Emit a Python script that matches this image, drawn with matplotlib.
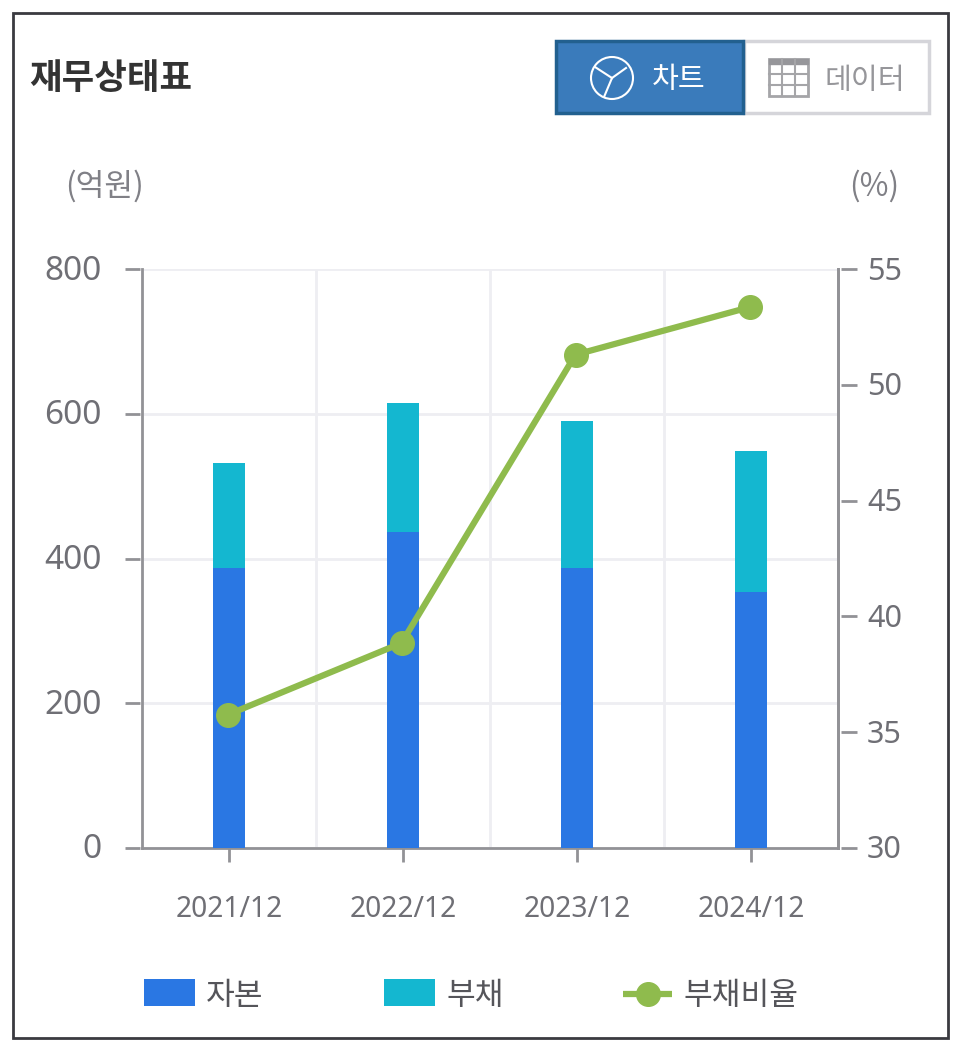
import matplotlib
matplotlib.use('Agg')
import matplotlib.pyplot as plt
from matplotlib.patches import Rectangle, Circle
from matplotlib.transforms import ScaledTranslation

plt.rcParams['font.family'] = ['Noto Sans CJK KR', 'DejaVu Sans']

# --- data ---
periods = ['2021/12', '2022/12', '2023/12', '2024/12']
equity = [387, 437, 387, 354]
debt = [145, 178, 203, 195]
debt_ratio = [35.75, 38.85, 51.3, 53.35]
left_ticks = [0, 200, 400, 600, 800]
right_ticks = [30, 35, 40, 45, 50, 55]

BLUE = '#2a77e3'
CYAN = '#14b7d0'
GREEN = '#8fbb4d'
GRAY = '#6f6f75'
AXIS = '#929296'
W, H = 960, 1050

fig = plt.figure(figsize=(W / 100, H / 100), dpi=100, facecolor='white')


def px_shift(dx, dy):
    # offset in screen pixels, y up
    return ScaledTranslation(dx / 100, dy / 100, fig.dpi_scale_trans)


# overlay in pixel coordinates for the card, title, buttons and legend
bg = fig.add_axes([0, 0, 1, 1])
bg.set_xlim(0, W)
bg.set_ylim(H, 0)
bg.axis('off')
bg.add_patch(Rectangle((12.5, 12.5), 935, 1025, fc='white', ec='#3a3a40', lw=2))
bg.text(29, 79, '재무상태표', fontsize=25.5, fontweight='bold', color='#333333', va='center', ha='left')

# chart / data toggle
bg.add_patch(Rectangle((744, 41), 185, 72, fc='white', ec='#d5d5da', lw=2.5))
bg.add_patch(Rectangle((556, 41), 187, 72, fc='#3a7bbb', ec='#22608f', lw=2.5))
bg.text(679, 80, '차트', fontsize=21, color='white', ha='center', va='center')
bg.text(865, 81, '데이터', fontsize=21, color='#96969a', ha='center', va='center')
bg.add_patch(Circle((612, 78), 21, fc='none', ec='white', lw=1.5))
for end in [(595, 67), (626, 68), (604, 97)]:
    bg.plot([612, end[0]], [78, end[1]], color='white', lw=1.5)
bg.add_patch(Rectangle((769, 59), 39, 37, fc='none', ec='#a5a5a8', lw=2))
bg.add_patch(Rectangle((769, 59), 39, 5, fc='#96969a', ec='#96969a', lw=1))
for gx in [782, 795]:
    bg.plot([gx, gx], [59, 96], color='#a5a5a8', lw=1.5)
for gy in [74, 85]:
    bg.plot([769, 808], [gy, gy], color='#a5a5a8', lw=1.5)

bg.text(105, 186, '(억원)', fontsize=22.5, color='#808086', ha='center', va='center')
bg.text(874, 186, '(%)', fontsize=22.5, color='#808086', ha='center', va='center')

# legend
bg.add_patch(Rectangle((144, 979), 51, 27, fc=BLUE, ec='none'))
bg.text(235, 996, '자본', fontsize=22.5, color='#55555a', ha='center', va='center')
bg.add_patch(Rectangle((384, 979), 51, 27, fc=CYAN, ec='none'))
bg.text(475, 996, '부채', fontsize=22.5, color='#55555a', ha='center', va='center')
bg.plot([623, 672], [994, 994], color=GREEN, lw=4.5, solid_capstyle='butt')
bg.plot([648], [994], 'o', color=GREEN, ms=17)
bg.text(741, 996, '부채비율', fontsize=22.5, color='#55555a', ha='center', va='center')

# plot area: x 142..838, y 269..848 px
ax = fig.add_axes([142 / W, 1 - 848 / H, (838 - 142) / W, (848 - 269) / H])
ax.patch.set_alpha(0)
x = list(range(len(periods)))
ax.bar(x, equity, width=0.187, color=BLUE, zorder=3)
ax.bar(x, debt, width=0.187, bottom=equity, color=CYAN, zorder=3)
ax.set_xlim(-0.5, 3.5)
ax.set_ylim(0, 800)
ax.set_yticks(left_ticks)
ax.set_xticks(x)
ax.set_xticklabels(periods, family=['Noto Sans', 'DejaVu Sans'])
ax.set_xticks([0.5, 1.5, 2.5], minor=True)
ax.grid(True, axis='y', color='#eeeef2', lw=2, zorder=0)
ax.grid(True, axis='x', which='minor', color='#eeeef2', lw=2, zorder=0)
ax.tick_params(axis='x', which='minor', length=0)
ax.tick_params(axis='x', which='major', length=10, width=2, color=AXIS,
               labelsize=20.3, labelcolor=GRAY, pad=23.5)
ax.tick_params(axis='y', length=0, labelsize=24, labelcolor=GRAY, pad=29)
for lab in ax.get_yticklabels():
    lab.set_family(['Noto Sans', 'DejaVu Sans'])
    lab.set_transform(lab.get_transform() + px_shift(0, 2))
ax.spines['top'].set_visible(False)
for side in ['left', 'bottom', 'right']:
    ax.spines[side].set_color(AXIS)
    ax.spines[side].set_linewidth(2)

# the y ticks stand slightly off the axis line
ytrans = ax.get_yaxis_transform()
for v in left_ticks:
    ax.plot([-0.025, -0.003], [v, v], color=AXIS, lw=2, transform=ytrans,
            clip_on=False, solid_capstyle='butt')

ax2 = ax.twinx()
ax2.set_ylim(30, 55)
ax2.set_yticks(right_ticks)
ax2.plot(x, debt_ratio, color=GREEN, lw=4.5, marker='o', ms=17, zorder=5, clip_on=False,
         transform=ax2.transData + px_shift(-1.5, 0))
ax2.tick_params(axis='y', length=0, labelsize=22, labelcolor=GRAY, pad=21)
for lab in ax2.get_yticklabels():
    lab.set_family(['Noto Sans', 'DejaVu Sans'])
    lab.set_transform(lab.get_transform() + px_shift(0, 1))
ax2.spines['top'].set_visible(False)
ax2.spines['left'].set_visible(False)
ax2.spines['bottom'].set_visible(False)
ax2.spines['right'].set_color(AXIS)
ax2.spines['right'].set_linewidth(2)

ytrans2 = ax2.get_yaxis_transform()
for v in right_ticks:
    ax2.plot([1.005, 1.027], [v, v], color=AXIS, lw=2, transform=ytrans2,
             clip_on=False, solid_capstyle='butt')

fig.savefig('out.png', dpi=100)
